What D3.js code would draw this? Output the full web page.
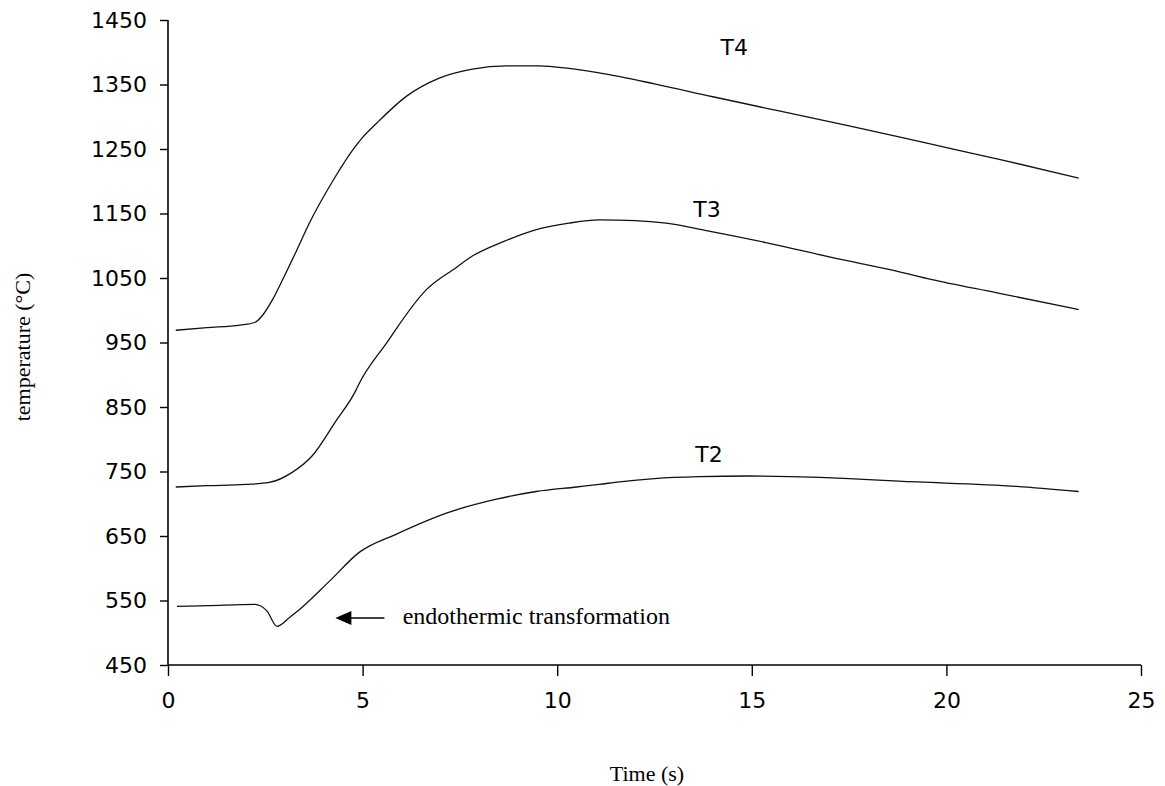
<!DOCTYPE html>
<html>
<head>
<meta charset="utf-8">
<script src="https://cdn.jsdelivr.net/npm/d3@7"></script>
<style>
  html, body { margin: 0; padding: 0; background: #fff; }
  svg { display: block; }
</style>
</head>
<body>
<svg id="chart" width="1165" height="786"></svg>
<script>
// ---- data ----
const xTicks = [0, 5, 10, 15, 20, 25];
const yTicks = [450, 550, 650, 750, 850, 950, 1050, 1150, 1250, 1350, 1450];

const t4Time = [0.2, 1.0, 1.85, 2.23, 2.44, 2.7, 2.95, 3.3, 3.64, 4.23, 4.79, 5.0, 5.36, 6.13, 6.97, 7.82, 8.69, 9.54, 10.3, 11.08, 12.5, 14.0, 15.7, 17.5, 19.5, 21.5, 23.4];
const t4Temp = [969, 973, 977, 981, 993, 1018, 1048, 1092, 1136, 1200, 1252, 1268, 1290, 1332, 1360, 1374, 1379, 1379, 1375, 1368, 1351, 1331, 1309, 1286, 1259, 1232, 1205];

const t3Time = [0.2, 1.0, 2.0, 2.6, 3.2, 3.7, 4.3, 4.82, 4.9, 5.6, 6.64, 7.4, 7.82, 8.6, 9.4, 10.3, 11.08, 12.0, 12.8, 13.8, 15.36, 17.05, 18.77, 19.6, 21.3, 23.4];
const t3Temp = [726, 728, 730, 733, 749, 774, 827, 875, 885, 948, 1032, 1066, 1084, 1106, 1124, 1135, 1140, 1139, 1135, 1124, 1105, 1082, 1060, 1048, 1027, 1001];

const t2Time = [0.23, 1.0, 2.23, 2.54, 2.8, 3.13, 3.3, 4.15, 4.92, 5.87, 7.23, 8.44, 9.46, 10.5, 11.08, 11.6, 12.5, 13.64, 14.9, 16.0, 17.5, 18.77, 21.8, 23.4];
const t2Temp = [541, 542, 544, 534, 510, 524, 532, 580, 625, 653, 687, 707, 719, 726, 730, 734, 739, 742, 743, 742, 739, 735, 727, 719];

const seriesNames = ["T4", "T3", "T2"];
const labelTime = [14.55, 13.85, 13.9];
const labelTemp = [1408, 1156, 777];

const annotationText = "endothermic transformation";
const arrowTipTime = 4.3, arrowTailTime = 5.56, arrowTemp = 523, annotationTime = 6.03;

// ---- chart ----
const svg = d3.select("#chart");
const x = d3.scaleLinear().domain([0, 25]).range([168, 1141]);
const y = d3.scaleLinear().domain([450, 1450]).range([665, 20]);

const sansFont = "'DejaVu Sans', sans-serif";
const serifFont = "'Liberation Serif', 'Times New Roman', serif";

// axes
const xAxis = svg.append("g").attr("transform", `translate(0,${y(450)})`)
  .call(d3.axisBottom(x).tickValues(xTicks).tickSize(11).tickPadding(16).tickFormat(d3.format("d")));
const yAxis = svg.append("g").attr("transform", `translate(${x(0)},0)`)
  .call(d3.axisLeft(y).tickValues(yTicks).tickSize(8).tickPadding(13).tickFormat(d3.format("d")));

[xAxis, yAxis].forEach(g => {
  g.select(".domain").attr("stroke", "#000").attr("stroke-width", 1.6);
  g.selectAll(".tick line").attr("stroke", "#000").attr("stroke-width", 1.4);
  g.selectAll(".tick text").attr("fill", "#000").style("font-family", sansFont).style("font-size", "22px");
});
xAxis.select(".domain").attr("d", `M${x(0)},0H${x(25)}`);
yAxis.select(".domain").attr("d", `M0,${y(450)}V${y(1450)}`);

// series
const line = d3.line().x(d => x(d[0])).y(d => y(d[1])).curve(d3.curveMonotoneX);
const series = [
  d3.zip(t4Time, t4Temp),
  d3.zip(t3Time, t3Temp),
  d3.zip(t2Time, t2Temp)
];
svg.append("g").selectAll("path").data(series).join("path")
  .attr("d", line).attr("fill", "none").attr("stroke", "#111").attr("stroke-width", 1.3);

// series labels
svg.append("g").selectAll("text").data(seriesNames).join("text")
  .attr("x", (d, i) => x(labelTime[i])).attr("y", (d, i) => y(labelTemp[i]))
  .attr("text-anchor", "middle").attr("dominant-baseline", "central")
  .style("font-family", sansFont).style("font-size", "22px").attr("fill", "#000")
  .text(d => d);

// annotation arrow
const ay = y(arrowTemp);
svg.append("line").attr("x1", x(arrowTipTime) + 14).attr("x2", x(arrowTailTime))
  .attr("y1", ay).attr("y2", ay).attr("stroke", "#000").attr("stroke-width", 1.5);
svg.append("path")
  .attr("d", `M${x(arrowTipTime)},${ay}L${x(arrowTipTime) + 16},${ay - 7}L${x(arrowTipTime) + 16},${ay + 7}Z`)
  .attr("fill", "#000");
svg.append("text").attr("x", x(annotationTime)).attr("y", ay - 2).attr("dominant-baseline", "central")
  .style("font-family", serifFont).style("font-size", "24px").attr("fill", "#000")
  .text(annotationText);

// axis titles
svg.append("text").attr("x", 647).attr("y", 773).attr("text-anchor", "middle")
  .attr("dominant-baseline", "central")
  .style("font-family", serifFont).style("font-size", "22px").text("Time (s)");
svg.append("text").attr("transform", "translate(22,347) rotate(-90)").attr("text-anchor", "middle")
  .attr("dominant-baseline", "central")
  .style("font-family", serifFont).style("font-size", "22px").text("temperature (°C)");
</script>
</body>
</html>
